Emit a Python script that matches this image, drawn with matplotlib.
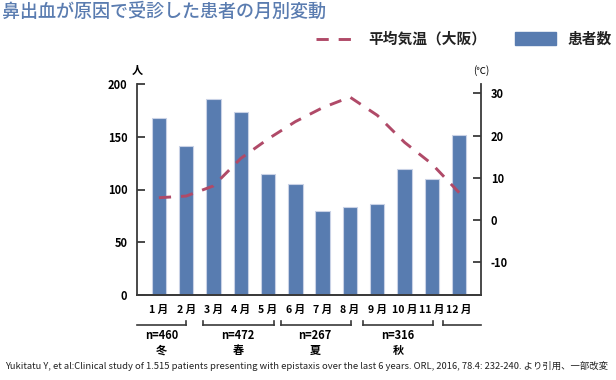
import matplotlib
matplotlib.use("Agg")
import matplotlib.pyplot as plt
from matplotlib.lines import Line2D
from matplotlib.patches import Rectangle
import numpy as np

plt.rcParams["font.family"] = ["Noto Sans CJK JP", "DejaVu Sans"]

# ── Data ──────────────────────────────────────────────────────────────────────
months = ["1 月", "2 月", "3 月", "4 月", "5 月", "6 月",
          "7 月", "8 月", "9 月", "10 月", "11 月", "12 月"]
patients = [168, 141, 186, 173, 115, 105, 80, 83, 86, 119, 110, 152]
temp_osaka = [5.3, 5.7, 8.1, 14.6, 19.2, 23.3, 26.6, 29.1, 24.8, 18.4, 13.3, 6.5]

season_n = ["n=460", "n=472", "n=267", "n=316"]
season_names = ["冬", "春", "夏", "秋"]

left_ticks = [0, 50, 100, 150, 200]
right_ticks = [-10, 0, 10, 20, 30]

BAR_COLOR = "#587cb0"
LINE_COLOR = "#b04a68"
TITLE_COLOR = "#5a7cb0"
AXIS_COLOR = "#3a3a3a"

# ── Figure ────────────────────────────────────────────────────────────────────
fig = plt.figure(figsize=(6.16, 3.80), dpi=100)
ax = fig.add_axes([137 / 616, 85 / 380, (481 - 137) / 616, (295 - 84) / 380])
ax2 = ax.twinx()

x = np.arange(len(months))
ax.bar(x, patients, width=0.53, color=BAR_COLOR,
       edgecolor="#c9d2e6", linewidth=0.8, zorder=2)
ax.set_xlim(-0.8, 11.8)
ax.set_ylim(0, 200)

ax2.plot(x, temp_osaka, color=LINE_COLOR, linewidth=2.1,
         dashes=(4.2, 3.4), zorder=3)
ax2.set_ylim(-17.7, 32.2)

for a in (ax, ax2):
    a.spines["top"].set_visible(False)
    for side in ("left", "right", "bottom"):
        a.spines[side].set_color(AXIS_COLOR)
        a.spines[side].set_linewidth(1.3)

ax.spines["right"].set_visible(False)
ax2.spines["left"].set_visible(False)

ax.set_yticks(left_ticks)
ax.set_yticklabels([str(t) for t in left_ticks], fontsize=8, fontweight="bold")
ax.tick_params(axis="y", direction="in", length=6, width=1.3,
               color=AXIS_COLOR, pad=7)
ax2.set_yticks(right_ticks)
ax2.set_yticklabels([str(t) for t in right_ticks], fontsize=8, fontweight="bold")
ax2.tick_params(axis="y", direction="in", length=6, width=1.3,
                color=AXIS_COLOR, pad=7)

ax.set_xticks(x)
ax.set_xticklabels(months, fontsize=7.6, fontweight="bold")
ax.tick_params(axis="x", length=0, pad=7)

# unit labels
ax.text(-0.8, 1.065, "人", transform=ax.get_xaxis_transform(),
        ha="center", va="center", fontsize=8, fontweight="bold")
ax.text(11.8, 1.065, "(℃)", transform=ax.get_xaxis_transform(),
        ha="center", va="center", fontsize=7)

# ── Season brackets ───────────────────────────────────────────────────────────
tr = ax.get_xaxis_transform()
y_br, y_up = -0.142, -0.122
brackets = [(-0.8, 1.0, False, True), (1.6, 4.2, True, True),
            (4.47, 7.04, True, True), (7.48, 10.05, True, True),
            (10.4, 11.8, True, False)]
for x0, x1, lt, rt in brackets:
    ax.plot([x0, x1], [y_br, y_br], color=AXIS_COLOR, lw=1.2,
            transform=tr, clip_on=False)
    if lt:
        ax.plot([x0, x0], [y_br, y_up], color=AXIS_COLOR, lw=1.2,
                transform=tr, clip_on=False)
    if rt:
        ax.plot([x1, x1], [y_br, y_up], color=AXIS_COLOR, lw=1.2,
                transform=tr, clip_on=False)

label_x = [0.1, 2.9, 5.72, 8.76]
for lx, n, s in zip(label_x, season_n, season_names):
    ax.text(lx, -0.19, n, transform=tr, ha="center", va="center",
            fontsize=8, fontweight="bold")
    ax.text(lx, -0.262, s, transform=tr, ha="center", va="center",
            fontsize=8, fontweight="bold")

# ── Title + legend ────────────────────────────────────────────────────────────
fig.text(2 / 616, 1 - 12 / 380, "鼻出血が原因で受診した患者の月別変動",
         ha="left", va="center", fontsize=13, color=TITLE_COLOR,
         fontweight="medium")

ly = 1 - 39 / 380
fig.add_artist(Line2D([316 / 616, 357 / 616], [ly, ly], color=LINE_COLOR,
                      linewidth=2.1, dashes=(4.2, 3.4)))
fig.text(368 / 616, ly, "平均気温（大阪）", ha="left", va="center",
         fontsize=10.6, fontweight="bold", color="#222222")
fig.add_artist(Rectangle((515 / 616, 1 - 45 / 380), 41 / 616, 13 / 380,
                         color=BAR_COLOR, transform=fig.transFigure))
fig.text(568 / 616, ly, "患者数", ha="left", va="center",
         fontsize=10.6, fontweight="bold", color="#222222")

fig.text(5 / 616, 1 - 366 / 380,
         "Yukitatu Y, et al:Clinical study of 1.515 patients presenting with "
         "epistaxis over the last 6 years. ORL, 2016, 78.4: 232-240. より引用、一部改変",
         ha="left", va="center", fontsize=6.75, color="#222222")

fig.savefig("out.png", dpi=100)
